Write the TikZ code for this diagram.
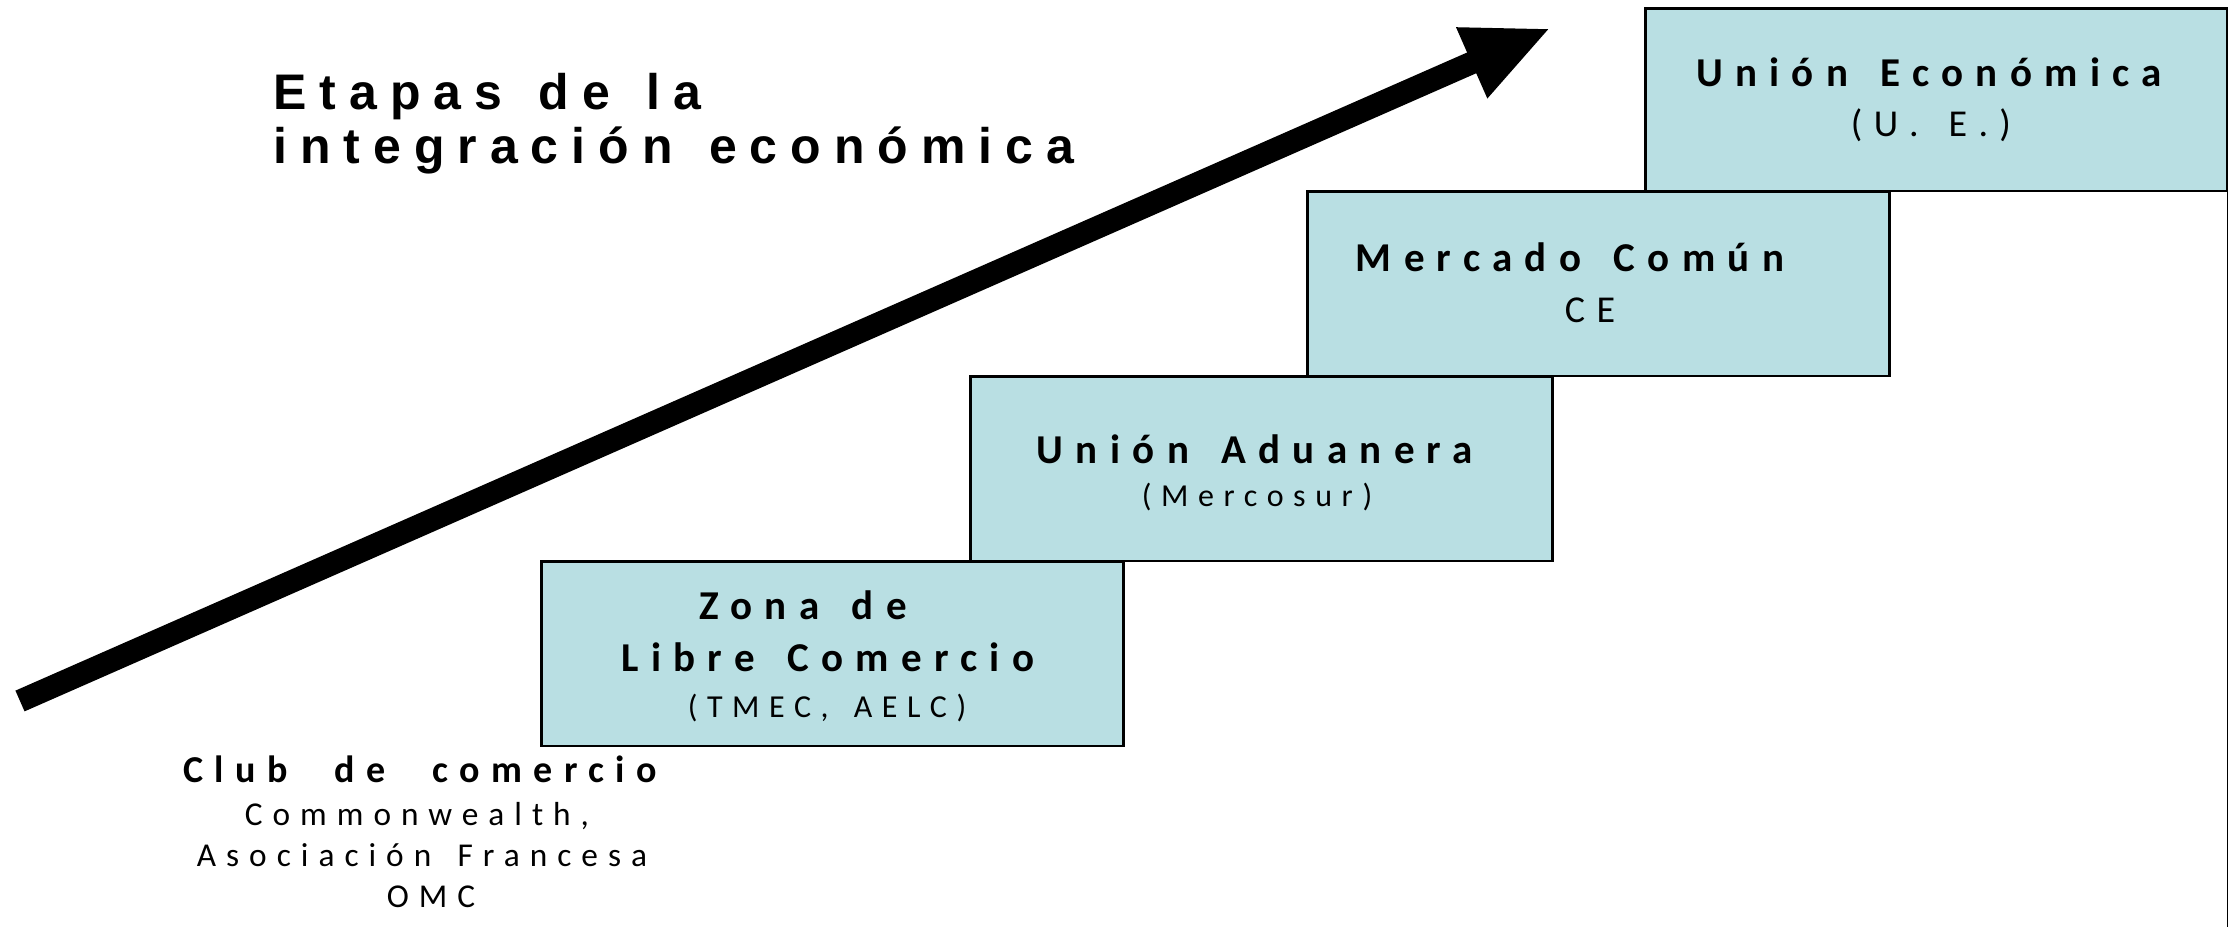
\documentclass[tikz,border=0pt]{standalone}
\usepackage{fontspec}
\setmainfont{Carlito}
\newfontfamily\boxfont[LetterSpace=30,WordSpace=2.3]{Carlito}
\newfontfamily\clubfont[LetterSpace=30,WordSpace=2.35,UprightFont=*-Bold]{Carlito}
\newfontfamily\clubsubfont[LetterSpace=30,WordSpace=1.5]{Carlito}
\newfontfamily\titlefont[LetterSpace=26,WordSpace=1.35]{Liberation Sans}
\usetikzlibrary{arrows.meta}
\definecolor{boxfill}{RGB}{185,223,227}
\begin{document}
\begin{tikzpicture}[x=0.75pt,y=-0.75pt,
  stage/.style={draw=black, line width=1.9pt, fill=boxfill, rectangle, inner sep=0pt,
    minimum width=436.5pt, minimum height=138.5pt, anchor=north west},
  bt/.style={anchor=base, inner sep=0pt, font=\boxfont\bfseries\fontsize{30.75}{36}\selectfont},
  st/.style={anchor=base, inner sep=0pt, font=\boxfont\fontsize{28.5}{34}\selectfont},
  sst/.style={anchor=base, inner sep=0pt, font=\boxfont\fontsize{24}{30}\selectfont},
  cbt/.style={anchor=base, inner sep=0pt, font=\clubfont\fontsize{28.5}{34}\selectfont},
  cst/.style={anchor=base, inner sep=0pt, font=\clubsubfont\fontsize{25}{30}\selectfont},
  ttl/.style={anchor=base west, inner sep=0pt, font=\titlefont\bfseries\fontsize{37.5}{44}\selectfont}]
\useasboundingbox (0,0) rectangle (2228,927);
\coordinate (floor) at (0,927);
% boxes
\node[stage] (zona) at (540,560) {};
\node[stage] (adu) at (969,375) {};
\node[stage] (merc) at (1306,190) {};
\node[stage, minimum height=137pt] (ue) at (1644,7) {};
\draw[line width=1.9pt] (ue.south east) -- (ue.south east |- floor);
% arrow
\coordinate (tail) at (20,701);
\coordinate (tip) at (1551,28);
\draw[line width=17pt, -{Triangle[length=65pt,width=53pt]}] (tail) -- (tip);
% title
\node[ttl] (t1) at (273,110) {Etapas de la};
\node[ttl] (t2) at (273,164) {integración económica};
% texts
\node[bt] (ue1) at (1929,87) {Unión Económica};
\node[st] (ue2) at (1931,137) {(U. E.)};
\node[bt] (me1) at (1570,272) {Mercado Común};
\node[st] (me2) at (1590,323) {CE};
\node[bt] (ad1) at (1255,463) {Unión Aduanera};
\node[sst] (ad2) at (1257,506) {(Mercosur)};
\node[bt] (zo1) at (803,619) {Zona de};
\node[bt] (zo2) at (828,671) {Libre Comercio};
\node[sst] (zo3) at (827,717) {(TMEC, AELC)};
\node[cbt] (cl1) at (420,782) {Club de comercio};
\node[cst] (cl2) at (417,825) {Commonwealth,};
\node[cst] (cl3) at (422,866) {Asociación Francesa};
\node[cst] (cl4) at (431,907) {OMC};
\end{tikzpicture}
\end{document}
